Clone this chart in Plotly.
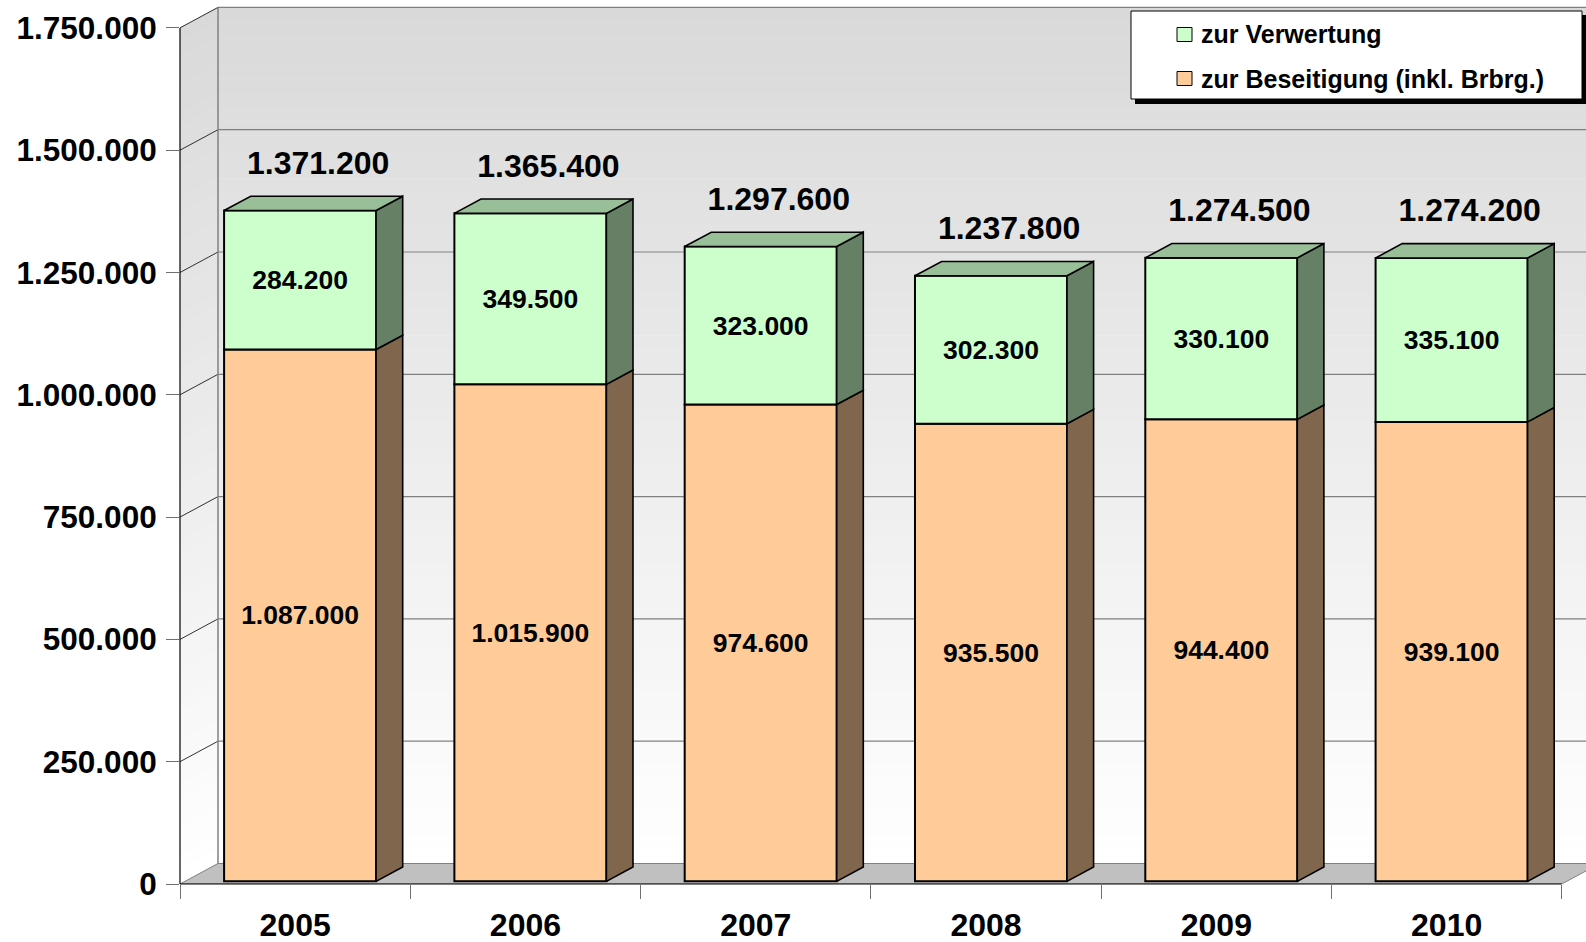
import plotly.graph_objects as go

# ---------------- data ----------------
years = ["2005", "2006", "2007", "2008", "2009", "2010"]
beseitigung = [1087000, 1015900, 974600, 935500, 944400, 939100]   # zur Beseitigung (inkl. Brbrg.)
verwertung = [284200, 349500, 323000, 302300, 330100, 335100]      # zur Verwertung
y_ticks = [0, 250000, 500000, 750000, 1000000, 1250000, 1500000, 1750000]
series_names = ["zur Verwertung", "zur Beseitigung (inkl. Brbrg.)"]

totals = [b + v for b, v in zip(beseitigung, verwertung)]


def de(v):
    return f"{v:,}".replace(",", ".")


# ---------------- geometry / style ----------------
W, H = 1586, 942
ML, MR, MT, MB = 180, 0, 0, 58
PW, PH = W - ML - MR, H - MT - MB
X0 = -0.5
XMAX = X0 + PW / 230.3
YMAX = 1807000
DXW = 0.165      # wall depth (category units)
DYW = 41900      # wall depth (value units)
F0, F1 = 0.13, 0.83   # bar front / back depth fraction
BW = 0.66
FONT = "Liberation Sans, Arial, sans-serif"
xs = list(range(len(years)))

C_OR, C_OR_S = "#FFCC99", "#80664D"
C_GR, C_GR_S, C_GR_T = "#CCFFCC", "#668066", "#99BF99"


def PX(x):
    return (x - ML) / PW


def PY(y):
    return (H - MB - y) / PH


fig = go.Figure()

# ---------------- front faces (real bars) ----------------
fig.add_bar(
    x=xs, y=beseitigung, base=[F0 * DYW] * len(xs), width=BW, offset=-BW / 2 + F0 * DXW,
    name=series_names[1], showlegend=False,
    marker=dict(color=C_OR, line=dict(color="black", width=2)),
    text=[de(v) for v in beseitigung], textposition="inside", insidetextanchor="middle",
    textangle=0, constraintext="none",
    insidetextfont=dict(family=FONT, size=26.5, color="black", weight="bold"),
    hoverinfo="skip",
)
fig.add_bar(
    x=xs, y=verwertung, base=[b + F0 * DYW for b in beseitigung], width=BW,
    offset=-BW / 2 + F0 * DXW,
    name=series_names[0], showlegend=False,
    marker=dict(color=C_GR, line=dict(color="black", width=2)),
    text=[de(v) for v in verwertung], textposition="inside", insidetextanchor="middle",
    textangle=0, constraintext="none",
    insidetextfont=dict(family=FONT, size=26.5, color="black", weight="bold"),
    hoverinfo="skip",
)

# ---------------- side & top faces ----------------
dd = (F1 - F0) * DXW


def side_faces(lows, highs):
    px_, py_ = [], []
    for i, (lo, hi) in enumerate(zip(lows, highs)):
        xr = i + BW / 2 + F0 * DXW
        px_ += [xr, xr + dd, xr + dd, xr, xr, None]
        py_ += [lo + F0 * DYW, lo + F1 * DYW, hi + F1 * DYW, hi + F0 * DYW, lo + F0 * DYW, None]
    return px_, py_


sx, sy = side_faces([0] * len(xs), beseitigung)
fig.add_scatter(x=sx, y=sy, mode="lines", fill="toself", fillcolor=C_OR_S,
                line=dict(color="black", width=1.6), showlegend=False, hoverinfo="skip")
sx, sy = side_faces(beseitigung, totals)
fig.add_scatter(x=sx, y=sy, mode="lines", fill="toself", fillcolor=C_GR_S,
                line=dict(color="black", width=1.6), showlegend=False, hoverinfo="skip")

tx, ty = [], []
for i, t in enumerate(totals):
    xl = i - BW / 2 + F0 * DXW
    xr = xl + BW
    tx += [xl, xr, xr + dd, xl + dd, xl, None]
    ty += [t + F0 * DYW, t + F0 * DYW, t + F1 * DYW, t + F1 * DYW, t + F0 * DYW, None]
fig.add_scatter(x=tx, y=ty, mode="lines", fill="toself", fillcolor=C_GR_T,
                line=dict(color="black", width=1.6), showlegend=False, hoverinfo="skip")

# ---------------- totals ----------------
fig.add_scatter(
    x=[i + 0.10 for i in xs], y=[t + 97000 for t in totals], mode="text",
    text=[de(t) for t in totals], textposition="middle center",
    textfont=dict(family=FONT, size=32, color="black", weight="bold"),
    showlegend=False, hoverinfo="skip", cliponaxis=False,
)

# ---------------- walls ----------------
shapes = []
N = 60
top = y_ticks[-1]
for k in range(N):
    v0 = k * top / N
    v1 = (k + 1) * top / N
    t = (k + 0.5) / N
    g = int(round(255 - (255 - 217) * t))
    col = f"rgb({g},{g},{g})"
    # back wall strip
    shapes.append(dict(type="rect", xref="x", yref="y", x0=X0 + DXW, x1=XMAX + 0.5,
                       y0=v0 + DYW, y1=v1 + DYW + 800, fillcolor=col,
                       line=dict(width=0), layer="below"))
    # side wall strip
    shapes.append(dict(type="path", xref="x", yref="y",
                       path=f"M{X0},{v0} L{X0},{v1 + 800} L{X0 + DXW},{v1 + DYW + 800} L{X0 + DXW},{v0 + DYW} Z",
                       fillcolor=col, line=dict(width=0), layer="below"))

# floor
shapes.append(dict(type="path", xref="x", yref="y",
                   path=f"M{X0},0 L{X0 + len(xs)},0 L{X0 + len(xs) + DXW},{DYW} L{X0 + DXW},{DYW} Z",
                   fillcolor="#C0C0C0", line=dict(color="#808080", width=1), layer="below"))
# back wall grid lines
for v in y_ticks[1:]:
    shapes.append(dict(type="line", xref="x", yref="y", x0=X0 + DXW, x1=XMAX + 0.5,
                       y0=v + DYW, y1=v + DYW, line=dict(color="#808080", width=1.2), layer="below"))
    shapes.append(dict(type="line", xref="x", yref="y", x0=X0, x1=X0 + DXW,
                       y0=v, y1=v + DYW, line=dict(color="#303030", width=1), layer="below"))
# back wall left edge
shapes.append(dict(type="line", xref="x", yref="y", x0=X0 + DXW, x1=X0 + DXW,
                   y0=DYW, y1=top + DYW, line=dict(color="#808080", width=1.5), layer="below"))
# front axis lines
shapes.append(dict(type="line", xref="paper", yref="paper", x0=0, x1=0, y0=0, y1=top / YMAX,
                   line=dict(color="black", width=1.2), layer="above"))
shapes.append(dict(type="line", xref="paper", yref="paper", x0=0,
                   x1=len(xs) / (XMAX - X0), y0=0, y1=0,
                   line=dict(color="black", width=1.2), layer="above"))

# ---------------- legend (box with shadow) ----------------
shapes.append(dict(type="rect", xref="paper", yref="paper", x0=PX(1135), x1=PX(1590),
                   y0=PY(104), y1=PY(15), fillcolor="black", line=dict(width=0), layer="above"))
shapes.append(dict(type="rect", xref="paper", yref="paper", x0=PX(1131), x1=PX(1582),
                   y0=PY(99), y1=PY(11), fillcolor="white", line=dict(color="black", width=1),
                   layer="above"))
legend_cols = [C_GR, C_OR]
legend_y = [34.5, 78.5]
annotations = []
for name, col, ly in zip(series_names, legend_cols, legend_y):
    shapes.append(dict(type="rect", xref="paper", yref="paper", x0=PX(1177), x1=PX(1192),
                       y0=PY(ly + 7), y1=PY(ly - 7), fillcolor=col,
                       line=dict(color="black", width=1), layer="above"))
    annotations.append(dict(xref="paper", yref="paper", x=PX(1199), y=PY(ly), text=name,
                            showarrow=False, xanchor="left", yanchor="middle",
                            font=dict(family=FONT, size=25, color="black", weight="bold")))

fig.update_layout(
    width=W, height=H,
    margin=dict(l=ML, r=MR, t=MT, b=MB, pad=0, autoexpand=False),
    paper_bgcolor="white", plot_bgcolor="white",
    barmode="overlay",
    showlegend=False,
    shapes=shapes,
    annotations=annotations,
    xaxis=dict(range=[X0, XMAX], tickmode="array", tickvals=xs, ticktext=years,
               ticks="", showgrid=False, zeroline=False, showline=False, automargin=False,
               tickfont=dict(family=FONT, size=32, color="black", weight="bold"),
               ticklabelstandoff=19,
               minor=dict(tickmode="array", tickvals=[X0 + k for k in range(len(xs) + 1)],
                          ticks="outside", ticklen=14, tickcolor="#707070", tickwidth=1.2,
                          showgrid=False)),
    yaxis=dict(range=[0, YMAX], tickmode="array", tickvals=y_ticks,
               ticktext=[de(v) for v in y_ticks], ticks="outside", ticklen=13,
               tickcolor="#707070", tickwidth=1.2, showgrid=False, zeroline=False,
               showline=False, ticklabelstandoff=3, automargin=False,
               tickfont=dict(family=FONT, size=31.5, color="black", weight="bold")),
)

fig.write_html(
    "out.html",
    config={"displayModeBar": False},
    post_script="document.body.style.margin='0';document.body.style.overflow='hidden';",
)
